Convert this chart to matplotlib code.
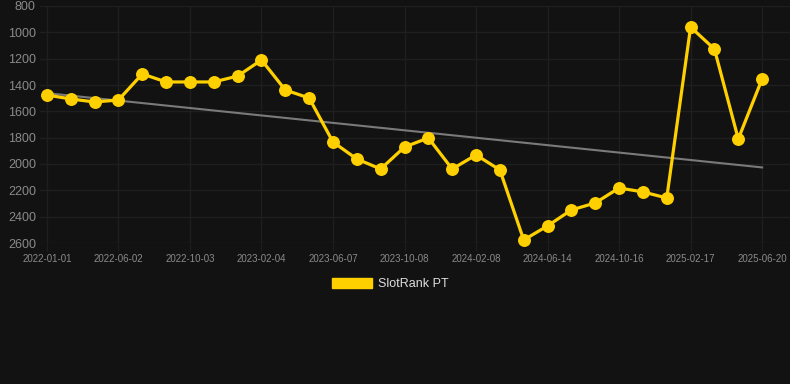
import numpy as np
import matplotlib.pyplot as plt
from matplotlib.patches import Patch

# Category labels (only every third one is shown on the axis)
dates = [
    '2022-01-01', '2022-02-20', '2022-04-12', '2022-06-02', '2022-07-13', '2022-08-23',
    '2022-10-03', '2022-11-13', '2022-12-25', '2023-02-04', '2023-03-18', '2023-04-27',
    '2023-06-07', '2023-07-19', '2023-08-28', '2023-10-08', '2023-11-18', '2023-12-29',
    '2024-02-08', '2024-03-20', '2024-05-01', '2024-06-14', '2024-07-25', '2024-09-04',
    '2024-10-16', '2024-11-26', '2025-01-06', '2025-02-17', '2025-03-30', '2025-05-10',
    '2025-06-20',
]
rank = [
    1476, 1506, 1529, 1514, 1316, 1377, 1377, 1377, 1332, 1210, 1438,
    1499, 1833, 1962, 2038, 1871, 1802, 2038, 1931, 2045, 2577, 2470,
    2349, 2296, 2182, 2212, 2258, 960, 1127, 1810, 1354,
]
y_ticks = [800, 1000, 1200, 1400, 1600, 1800, 2000, 2200, 2400, 2600]
series_name = 'SlotRank PT'

bg = '#121212'
grid_col = '#1f1f1f'
tick_col = '#8a8a8a'
line_col = '#ffd000'

plt.rcParams['font.family'] = ['Liberation Sans', 'DejaVu Sans']

W, H = 790, 384
fig = plt.figure(figsize=(W / 100, H / 100), dpi=100, facecolor=bg)
# axes box in pixels: left 40, right 790, top 6, bottom 243
ax = fig.add_axes([40 / W, 1 - 243 / H, 750 / W, 237 / H], facecolor=bg)

x = np.arange(len(rank))

# trend line (least squares fit)
coef = np.polyfit(x, rank, 1)
ax.plot(x, np.polyval(coef, x), color='#7a7a7a', lw=1.5, zorder=2)

ax.plot(x, rank, color=line_col, lw=2.3, marker='o', markersize=8.3,
        markerfacecolor=line_col, markeredgecolor=line_col, zorder=3, clip_on=False)

ax.set_ylim(2600, 800)
ax.set_yticks(y_ticks)
ax.set_xlim(-0.29, 31.17)
ax.set_xticks(x[::3])
ax.set_xticklabels(dates[::3])

ax.grid(True, color=grid_col, lw=1)
ax.set_axisbelow(True)
for s in ax.spines.values():
    s.set_visible(False)
ax.tick_params(axis='y', length=0, pad=3, labelsize=9, labelcolor=tick_col)
ax.tick_params(axis='x', length=6, color=grid_col, pad=2, labelsize=7, labelcolor=tick_col)

fig.legend(handles=[Patch(facecolor=line_col, edgecolor=line_col, label=series_name)],
           loc='center', bbox_to_anchor=(390 / W, 1 - 284 / H), frameon=False,
           fontsize=9, labelcolor='#dddddd', handlelength=3.2, handleheight=0.95,
           handletextpad=0.5)

fig.savefig('out.png', dpi=100, facecolor=bg)
